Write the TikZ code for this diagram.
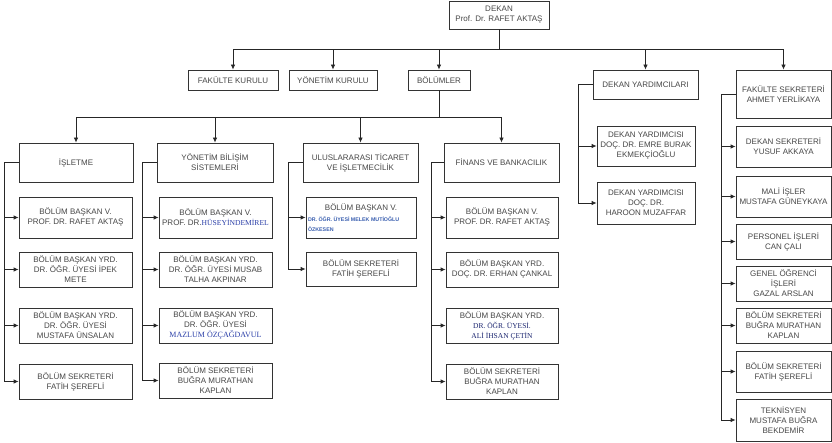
\documentclass[tikz,border=0pt]{standalone}
\usepackage{fontspec}
\setmainfont{Liberation Sans}
\newfontfamily\serifx{Liberation Serif}
\usetikzlibrary{arrows.meta}
\definecolor{txt}{HTML}{474747}
\definecolor{brd}{HTML}{333333}
\definecolor{bluetx}{HTML}{2B3FA8}
\definecolor{navytx}{HTML}{1C2670}
\definecolor{tinyblue}{HTML}{3A5FB0}
\newcommand\orgbox[6]{%
  \pgfmathsetmacro\cx{(#2+#4)/2}\pgfmathsetmacro\cy{(#3+#5)/2}%
  \pgfmathsetmacro\ww{#4-#2}\pgfmathsetmacro\hh{#5-#3}%
  \node[bx, minimum width=\ww pt, minimum height=\hh pt] (#1) at (\cx,\cy) {#6};}
\newcommand\serifblue[1]{{\serifx\fontsize{7.6}{10}\selectfont\color{bluetx}#1}}
\newcommand\tinyb[1]{\makebox[106pt][l]{\fontsize{5.3}{6}\selectfont\bfseries\color{tinyblue}#1}}
\begin{document}
\begin{tikzpicture}[x=1pt,y=-1pt,
  bx/.style={draw=brd, line width=0.8pt, inner sep=0pt, align=center, text=txt,
    font=\fontsize{8}{10}\selectfont, fill=white},
  edge/.style={draw=black!85, line width=0.8pt, -{Latex[length=5pt,width=4.5pt]}}
]
\useasboundingbox (0,0) rectangle (832,443);
% top
\orgbox{dekan}{449}{1}{549}{29}{DEKAN\\Prof. Dr. RAFET AKTAŞ}
\orgbox{fk}{188}{70}{278}{90}{FAKÜLTE KURULU}
\orgbox{yk}{289}{70}{377}{90}{YÖNETİM KURULU}
\orgbox{bol}{408}{70}{470}{90}{BÖLÜMLER}
\orgbox{dy}{593}{70}{698}{99}{DEKAN YARDIMCILARI}
\orgbox{fs}{736}{70}{831}{118}{FAKÜLTE SEKRETERİ\\AHMET YERLİKAYA}
% departments
\orgbox{isl}{19}{143}{133}{182}{İŞLETME}
\orgbox{ybs}{157}{143}{273}{182}{YÖNETİM BİLİŞİM\\SİSTEMLERİ}
\orgbox{ulu}{303}{143}{418}{182}{ULUSLARARASI TİCARET\\VE İŞLETMECİLİK}
\orgbox{fin}{444}{143}{559}{182}{FİNANS VE BANKACILIK}
% isletme
\orgbox{isla}{19}{197}{132}{238}{BÖLÜM BAŞKAN V.\\PROF. DR. RAFET AKTAŞ}
\orgbox{islb}{19}{252}{132}{287}{BÖLÜM BAŞKAN YRD.\\DR. ÖĞR. ÜYESİ İPEK\\METE}
\orgbox{islc}{19}{308}{132}{343}{BÖLÜM BAŞKAN YRD.\\DR. ÖĞR. ÜYESİ\\MUSTAFA ÜNSALAN}
\orgbox{isld}{19}{364}{132}{399}{BÖLÜM SEKRETERİ\\FATİH ŞEREFLİ}
% ybs
\orgbox{ybsa}{159}{197}{272}{238}{BÖLÜM BAŞKAN V.\\PROF. DR.\serifblue{HÜSEYİNDEMİREL}}
\orgbox{ybsb}{159}{252}{272}{287}{BÖLÜM BAŞKAN YRD.\\DR. ÖĞR. ÜYESİ MUSAB\\TALHA AKPINAR}
\orgbox{ybsc}{159}{308}{272}{343}{BÖLÜM BAŞKAN YRD.\\DR. ÖĞR. ÜYESİ\\{\serifx\fontsize{8}{10}\selectfont\color{bluetx}MAZLUM ÖZÇAĞDAVUL}}
\orgbox{ybsd}{159}{363}{272}{398}{BÖLÜM SEKRETERİ\\BUĞRA MURATHAN\\KAPLAN}
% ulus
\orgbox{ulua}{306}{197}{416}{238}{BÖLÜM BAŞKAN V.\\[1pt]\tinyb{DR. ÖĞR. ÜYESİ MELEK MUTİOĞLU}\\[-0.5pt]\tinyb{ÖZKESEN}}
\orgbox{ulub}{306}{252}{416}{286}{BÖLÜM SEKRETERİ\\FATİH ŞEREFLİ}
% finans
\orgbox{fina}{446}{197}{558}{238}{BÖLÜM BAŞKAN V.\\PROF. DR. RAFET AKTAŞ}
\orgbox{finb}{446}{252}{558}{287}{BÖLÜM BAŞKAN YRD.\\DOÇ. DR. ERHAN ÇANKAL}
\orgbox{finc}{446}{308}{558}{343}{BÖLÜM BAŞKAN YRD.\\{\serifx\fontsize{7.5}{9}\selectfont\color{navytx}DR. ÖĞR. ÜYESİ.}\\{\serifx\fontsize{7.5}{9}\selectfont\color{navytx}ALİ İHSAN ÇETİN}}
\orgbox{find}{446}{364}{558}{399}{BÖLÜM SEKRETERİ\\BUĞRA MURATHAN\\KAPLAN}
% dekan yardimcilari
\orgbox{dya}{597}{126}{695}{166}{DEKAN YARDIMCISI\\DOÇ. DR. EMRE BURAK\\EKMEKÇİOĞLU}
\orgbox{dyb}{597}{182}{695}{224}{DEKAN YARDIMCISI\\DOÇ. DR.\\HAROON MUZAFFAR}
% fakulte sekreteri
\orgbox{fsa}{736}{126}{831}{167}{DEKAN SEKRETERİ\\YUSUF AKKAYA}
\orgbox{fsb}{736}{176}{831}{217}{MALİ İŞLER\\MUSTAFA GÜNEYKAYA}
\orgbox{fsc}{736}{224}{831}{259}{PERSONEL İŞLERİ\\CAN ÇALI}
\orgbox{fsd}{736}{266}{831}{301}{GENEL ÖĞRENCİ\\İŞLERİ\\GAZAL ARSLAN}
\orgbox{fse}{736}{308}{831}{343}{BÖLÜM SEKRETERİ\\BUĞRA MURATHAN\\KAPLAN}
\orgbox{fsf}{736}{351}{831}{392}{BÖLÜM SEKRETERİ\\FATİH ŞEREFLİ}
\orgbox{fsg}{736}{399}{831}{441}{TEKNİSYEN\\MUSTAFA BUĞRA\\BEKDEMİR}
% edges: dean
\foreach \c in {fk,yk,bol,dy,fs}{\draw[edge] (dekan.south) -- ++(0,20) -| (\c.north);}
% edges: departments
\foreach \c in {isl,ybs,ulu,fin}{\draw[edge] (bol.south) -- ++(0,27) -| (\c.north);}
% edges: columns
\foreach \c in {isla,islb,islc,isld}{\draw[edge] (isl.west) -- ++(-14,0) |- (\c.west);}
\foreach \c in {ybsa,ybsb,ybsc,ybsd}{\draw[edge] (ybs.west) -- ++(-14,0) |- (\c.west);}
\foreach \c in {ulua,ulub}{\draw[edge] (ulu.west) -- ++(-14,0) |- (\c.west);}
\foreach \c in {fina,finb,finc,find}{\draw[edge] (fin.west) -- ++(-12,0) |- (\c.west);}
\foreach \c in {dya,dyb}{\draw[edge] (dy.west) -- ++(-14,0) |- (\c.west);}
\foreach \c in {fsa,fsb,fsc,fsd,fse,fsf,fsg}{\draw[edge] (fs.west) -- ++(-14,0) |- (\c.west);}
\end{tikzpicture}
\end{document}
